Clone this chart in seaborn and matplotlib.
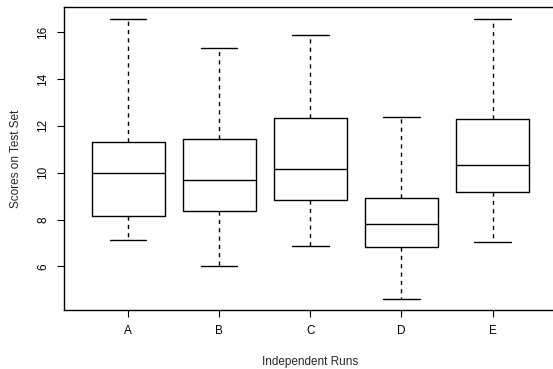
"""
Boxplot of test-set scores across five independent runs (R base-graphics look).
"""

import pandas as pd
import seaborn as sns
import matplotlib.pyplot as plt

# five-number summaries: min, Q1, median, Q3, max
runs = ["A", "B", "C", "D", "E"]
run_min = [7.12, 6.00, 6.87, 4.62, 7.05]
run_q1 = [8.16, 8.37, 8.83, 6.85, 9.16]
run_median = [9.97, 9.68, 10.15, 7.79, 10.34]
run_q3 = [11.31, 11.43, 12.32, 8.92, 12.31]
run_max = [16.57, 15.33, 15.86, 12.37, 16.58]
y_ticks = [6, 8, 10, 12, 14, 16]

# five points per run give exactly these quartiles with linear interpolation
rows = []
for i, run in enumerate(runs):
    for v in (run_min[i], run_q1[i], run_median[i], run_q3[i], run_max[i]):
        rows.append({"run": run, "score": v})
df = pd.DataFrame(rows)

sns.set_style("white")
plt.rcParams["font.family"] = ["Liberation Sans", "DejaVu Sans"]

fig = plt.figure(figsize=(5.53, 3.69), dpi=100)
ax = fig.add_axes([64.3 / 553, 1 - 310 / 369, 492 / 553, 302.7 / 369])

line_kw = dict(color="black", linewidth=1)
sns.boxplot(
    data=df, x="run", y="score", order=runs, ax=ax,
    whis=(0, 100), width=0.8, fill=False, linecolor="black", linewidth=1,
    whiskerprops=dict(linestyle=(0, (3, 3)), **line_kw),
    capprops=line_kw, medianprops=line_kw, boxprops=line_kw,
)

ax.set_xlim(-0.7, 4.7)
ax.set_ylim(4.14, 17.06)
ax.set_yticks(y_ticks)
ax.set_yticklabels([str(t) for t in y_ticks], rotation=90, va="center")

for side in ["left", "bottom", "top", "right"]:
    ax.spines[side].set_visible(True)
    ax.spines[side].set_color("black")
    ax.spines[side].set_linewidth(1)

ax.tick_params(axis="both", direction="out", length=5, width=0.8,
               color="black", labelsize=8.5, labelcolor="black", pad=6,
               left=True, bottom=True)

ax.set_xlabel("Independent Runs", fontsize=8.5)
ax.set_ylabel("Scores on Test Set", fontsize=8.5)
ax.xaxis.set_label_coords(0.5, -0.152)
ax.yaxis.set_label_coords(-0.085, 0.5)

fig.savefig("out.png", dpi=100)
